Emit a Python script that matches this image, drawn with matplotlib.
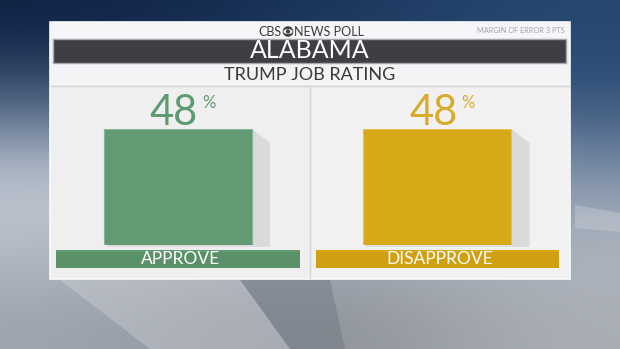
import numpy as np
import matplotlib.pyplot as plt
from matplotlib.patches import Rectangle, Polygon, Circle, Ellipse
from matplotlib.transforms import blended_transform_factory

# poll numbers
state = "ALABAMA"
question = "TRUMP JOB RATING"
categories = ["APPROVE", "DISAPPROVE"]
values = [48, 48]
bar_colors = ["#629a73", "#d8a916"]
label_bar_colors = ["#5b9168", "#d1a012"]
number_colors = ["#5e9a6f", "#d8ab2a"]

FONT = ["Lato", "DejaVu Sans"]
W, H = 620, 349

fig = plt.figure(figsize=(W / 100, H / 100), dpi=100)

# backdrop: soft studio gradient in pixel coordinates
bg = fig.add_axes([0, 0, 1, 1])
bg.set_xlim(0, W)
bg.set_ylim(H, 0)
bg.axis("off")
grad = np.array([
    [[14, 34, 68], [24, 50, 90], [38, 72, 112]],
    [[76, 98, 130], [92, 108, 134], [56, 86, 126]],
    [[192, 200, 212], [176, 184, 196], [128, 146, 170]],
    [[184, 190, 200], [166, 171, 180], [176, 182, 192]],
    [[158, 165, 176], [132, 137, 146], [170, 175, 183]],
]) / 255
bg.imshow(grad, extent=(0, W, H, 0), interpolation="bicubic", aspect="auto", zorder=0)
# darker and lighter planes behind the board
bg.add_patch(Polygon([(240, 280), (330, 280), (345, 349), (290, 349)], color="#6a7079", alpha=0.4, lw=0, zorder=1))
bg.add_patch(Polygon([(60, 280), (240, 280), (290, 349), (150, 349)], color="#cfd2d8", alpha=0.4, lw=0, zorder=1))
bg.add_patch(Polygon([(575, 205), (620, 213), (620, 232), (575, 228)], color="#d4d9df", alpha=0.35, lw=0, zorder=1))

# board
bg.add_patch(Rectangle((50, 22), 520, 257, facecolor="#eeeff1", edgecolor="#fafafa", lw=1.2, zorder=2))
bg.add_patch(Rectangle((50, 22), 520, 16, facecolor="#f5f6f8", lw=0, zorder=2))
bg.add_patch(Rectangle((53, 38.5), 513, 24, facecolor="#3d3f42", edgecolor="#a5a7aa", lw=1, zorder=3))
bg.add_patch(Rectangle((50, 64), 520, 21, facecolor="#f3f4f6", lw=0, zorder=2))
bg.plot([51, 569], [85.5, 85.5], color="#d2d3d5", lw=1, zorder=3)
bg.add_patch(Rectangle((51, 86), 258, 192, facecolor="#efefef", lw=0, zorder=2))
bg.add_patch(Rectangle((310, 86), 259, 192, facecolor="#f1f1f2", lw=0, zorder=2))
bg.plot([309.5, 309.5], [86, 278], color="#d6d6d8", lw=1, zorder=3)

# header texts
bg.text(281.5, 31.5, "CBS", family=FONT, fontsize=9, color="#3c3c3c", ha="right", va="center", zorder=4)
bg.add_patch(Circle((288, 31.5), 5.3, facecolor="#444", lw=0, zorder=4))
bg.add_patch(Ellipse((288, 31.5), 9, 5, facecolor="white", lw=0, zorder=5))
bg.add_patch(Circle((288, 31.5), 2.2, facecolor="#444", lw=0, zorder=6))
bg.text(294.5, 31.5, "NEWS POLL", family=FONT, fontsize=9, color="#3c3c3c", ha="left", va="center", zorder=4)
bg.text(565, 30.5, "MARGIN OF ERROR 3 PTS", family=FONT, fontsize=5.3, color="#a0a2a6",
        ha="right", va="center", zorder=4)
bg.text(310, 51, state, family=FONT, fontsize=18, color="white",
        ha="center", va="center", zorder=4)
bg.text(310, 75, question, family=FONT, fontsize=13, color="#3a3a3a",
        ha="center", va="center", zorder=4)

# bars: category 0 centred at x=178px, category 1 at x=437.5px, value 48 spans 129..245px
unit = 259.5
ax = fig.add_axes([(178 - unit / 2) / W, (H - 245) / H, 2 * unit / W, 116 / H])
ax.set_xlim(-0.5, 1.5)
ax.set_ylim(0, 48)
ax.axis("off")
ax.patch.set_alpha(0)

width = 148 / unit
x = np.arange(len(categories))
dx = 18 / unit
dy = 14 * 48 / 116
for i, v in enumerate(values):
    r = i + width / 2
    ax.add_patch(Polygon([(r, v), (r + dx, v - dy), (r + dx, -0.8), (r, -0.8)],
                         facecolor="#d9dadb", lw=0, zorder=1, clip_on=False))
    ax.add_patch(Rectangle((i - width / 2 + 0.01, -1.0), width, 1.0, facecolor="#dcdcdd",
                           lw=0, zorder=1, clip_on=False))
ax.bar(x, values, width=width, color=bar_colors, edgecolor=["#86b494", "#e8c24a"], lw=0.8, zorder=2)

lab = blended_transform_factory(ax.transData, ax.transAxes)
for i, (cat, v) in enumerate(zip(categories, values)):
    ax.annotate(f"{v}", (i, v), xytext=(-4, 4), textcoords="offset pixels", ha="center",
                va="baseline", family=FONT, fontsize=30, color=number_colors[i])
    ax.annotate("%", (i, v), xytext=(24, 34), textcoords="offset pixels", ha="left",
                va="top", family=FONT, fontsize=12, color=number_colors[i])
    # name strip under each bar
    ax.add_patch(Rectangle((i - 0.47, -23 / 116), 0.94, 18 / 116, transform=lab,
                           facecolor=label_bar_colors[i], lw=0, clip_on=False, zorder=2))
    ax.add_patch(Rectangle((i - 0.47, -7 / 116), 0.94, 2 / 116, transform=lab,
                           facecolor=bar_colors[i], lw=0, clip_on=False, zorder=3))
    ax.text(i + 0.01, -14 / 116, cat, transform=lab, family=FONT,
            fontsize=12.5, color="white", ha="center", va="center", zorder=4)

fig.savefig("out.png", dpi=100)
